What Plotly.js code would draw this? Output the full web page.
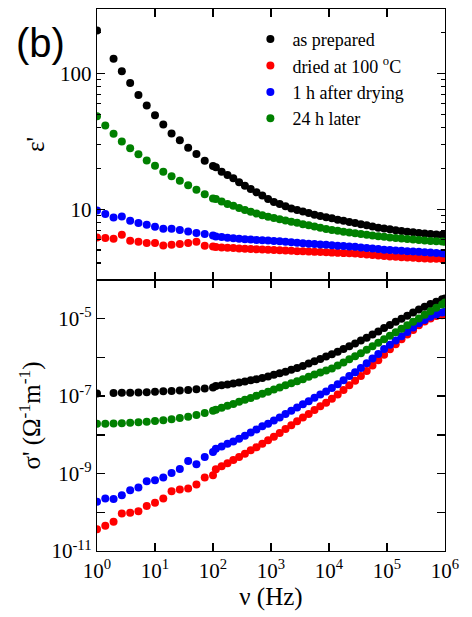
<!DOCTYPE html>
<html><head><meta charset="utf-8">
<script src="https://cdn.plot.ly/plotly-3.0.1.min.js"></script>
<style>html,body{margin:0;padding:0;background:#fff;}#chart{width:472px;height:617px;}</style>
</head><body>
<div id="chart"></div>
<script>
// Frequencies (Hz): low-frequency sweep and high-frequency sweep
const freqLow = [1, 1.39, 1.93, 2.68, 3.73, 5.18, 7.2, 10, 13.9, 19.3, 26.8, 37.3, 51.8, 72, 100];
const freqHigh = [112, 141, 178, 224, 282, 355, 447, 562, 708, 891,
  1122, 1413, 1778, 2239, 2818, 3548, 4467, 5623, 7079, 8913,
  11220, 14130, 17780, 22390, 28180, 35480, 44670, 56230, 70790, 89130,
  112200, 141300, 177800, 223900, 281800, 354800, 446700, 562300, 707900, 891300, 1000000];

const seriesNames = ["as prepared", "dried at 100 <sup>o</sup>C", "1 h after drying", "24 h later"];

// epsilon' (top panel)
const epsAsPrepared = [208, null, 129, 104, 85.3, 69.7, 58.2, 49.3, 42.2, 36.2, 32.2, 28.4, 25.5, 22.8, 20.8,
  20.4, 18.9, 17.9, 16.9, 15.8, 14.9, 14.1, 13.3, 12.6, 11.9, 11.3, 10.9, 10.5, 10.1, 9.85, 9.6, 9.35, 9.1, 8.9, 8.7,
  8.55, 8.35, 8.2, 8.05, 7.9, 7.75, 7.6, 7.45, 7.3, 7.2, 7.1, 7.0, 6.9, 6.82, 6.75, 6.68, 6.62, 6.56, 6.51, 6.47, 6.45];
const epsDried = [6.18, 6.12, 6.05, 6.48, 5.85, 5.75, 5.62, 5.62, 5.4, 5.46, 5.53, 5.62, 5.75, 5.37, 5.31,
  5.26, 5.22, 5.19, 5.16, 5.13, 5.1, 5.08, 5.06, 5.04, 5.02, 5.0, 4.98, 4.95, 4.93, 4.9, 4.88, 4.86, 4.84, 4.82, 4.8,
  4.78, 4.76, 4.74, 4.72, 4.7, 4.67, 4.63, 4.59, 4.55, 4.51, 4.48, 4.45, 4.42, 4.39, 4.37, 4.35, 4.33, 4.31, 4.3, 4.29, 4.28];
const eps1h = [9.77, 9.19, 8.67, 8.82, 8.2, 7.89, 7.67, 7.41, 7.17, 7.17, 7.01, 6.85, 6.66, 6.55, 6.4,
  6.29, 6.22, 6.15, 6.1, 6.05, 6.0, 5.96, 5.93, 5.89, 5.86, 5.83, 5.79, 5.75, 5.7, 5.65, 5.6, 5.56, 5.52, 5.48, 5.45,
  5.42, 5.38, 5.34, 5.3, 5.27, 5.22, 5.17, 5.12, 5.07, 5.02, 4.99, 4.96, 4.93, 4.9, 4.87, 4.84, 4.81, 4.78, 4.75, 4.72, 4.71];
const eps24h = [48.5, 41.5, 36.0, 31.6, 28.2, 25.4, 22.9, 20.9, 18.9, 17.5, 16.2, 15.0, 13.9, 12.9, 12.0,
  11.9, 11.4, 10.9, 10.6, 10.2, 9.85, 9.55, 9.28, 9.0, 8.78, 8.6, 8.42, 8.25, 8.08, 7.92, 7.75, 7.6, 7.45, 7.3, 7.15,
  7.02, 6.92, 6.82, 6.72, 6.63, 6.55, 6.48, 6.4, 6.32, 6.25, 6.19, 6.13, 6.07, 6.02, 5.97, 5.92, 5.87, 5.83, 5.79, 5.76, 5.74];

// sigma' (bottom panel), ohm^-1 m^-1
const sigAsPrepared = [1.175e-7, null, 1.20e-7, 1.22e-7, 1.23e-7, 1.245e-7, 1.26e-7, 1.30e-7, 1.33e-7, 1.36e-7, 1.40e-7, 1.45e-7, 1.51e-7, 1.58e-7, 1.66e-7,
  1.82e-7, 1.91e-7, 2.0e-7, 2.11e-7, 2.24e-7, 2.40e-7, 2.57e-7, 2.75e-7, 2.95e-7, 3.24e-7,
  3.55e-7, 3.89e-7, 4.27e-7, 4.79e-7, 5.37e-7, 6.03e-7, 6.92e-7, 7.94e-7, 9.12e-7, 1.05e-6,
  1.20e-6, 1.41e-6, 1.66e-6, 1.95e-6, 2.29e-6, 2.75e-6, 3.24e-6, 3.89e-6, 4.68e-6, 5.75e-6,
  6.92e-6, 8.32e-6, 1.0e-5, 1.20e-5, 1.45e-5, 1.74e-5, 2.04e-5, 2.40e-5, 2.75e-5, 3.16e-5, 3.31e-5];
const sigDried = [3.62e-11, 4.49e-11, 5.69e-11, 9.37e-11, 9.71e-11, 1.07e-10, 1.45e-10, 1.76e-10, 2.28e-10, 3.52e-10, 3.89e-10, 4.13e-10, 5.24e-10, 7.94e-10, 9.1e-10,
  1.29e-9, 1.55e-9, 1.86e-9, 2.24e-9, 2.69e-9, 3.24e-9, 3.98e-9, 4.79e-9, 5.89e-9, 7.24e-9,
  8.91e-9, 1.12e-8, 1.41e-8, 1.78e-8, 2.24e-8, 2.82e-8, 3.47e-8, 4.37e-8, 5.50e-8, 6.76e-8,
  8.51e-8, 1.10e-7, 1.45e-7, 1.91e-7, 2.51e-7, 3.31e-7, 4.47e-7, 6.17e-7, 8.51e-7, 1.17e-6,
  1.62e-6, 2.19e-6, 2.95e-6, 3.89e-6, 5.13e-6, 6.76e-6, 8.51e-6, 1.02e-5, 1.17e-5, 1.23e-5, 1.27e-5];
const sig1h = [1.87e-10, 2.28e-10, 2.19e-10, 2.77e-10, 3.73e-10, 4.38e-10, 6.37e-10, 6.76e-10, 7.94e-10, 1.04e-9, 1.32e-9, 2.12e-9, 1.75e-9, 2.69e-9, 3.63e-9,
  4.37e-9, 5.01e-9, 5.89e-9, 6.76e-9, 7.94e-9, 9.55e-9, 1.15e-8, 1.38e-8, 1.66e-8, 1.95e-8,
  2.34e-8, 2.82e-8, 3.47e-8, 4.17e-8, 5.07e-8, 6.17e-8, 7.41e-8, 9.12e-8, 1.10e-7, 1.32e-7,
  1.62e-7, 2.04e-7, 2.57e-7, 3.31e-7, 4.17e-7, 5.37e-7, 7.08e-7, 9.33e-7, 1.23e-6, 1.66e-6,
  2.14e-6, 2.75e-6, 3.55e-6, 4.57e-6, 5.89e-6, 7.59e-6, 9.33e-6, 1.12e-5, 1.29e-5, 1.45e-5, 1.51e-5];
const sig24h = [1.93e-8, 1.95e-8, 1.96e-8, 2.0e-8, 2.04e-8, 2.12e-8, 2.19e-8, 2.29e-8, 2.40e-8, 2.53e-8, 2.74e-8, 2.95e-8, 3.27e-8, 3.67e-8, 4.22e-8,
  4.47e-8, 5.01e-8, 5.62e-8, 6.31e-8, 7.16e-8, 8.04e-8, 9.02e-8, 1.02e-7, 1.15e-7, 1.30e-7,
  1.48e-7, 1.66e-7, 1.91e-7, 2.14e-7, 2.43e-7, 2.75e-7, 3.16e-7, 3.63e-7, 4.10e-7, 4.60e-7,
  5.20e-7, 6.17e-7, 7.41e-7, 8.91e-7, 1.07e-6, 1.29e-6, 1.58e-6, 1.95e-6, 2.40e-6, 2.95e-6,
  3.63e-6, 4.47e-6, 5.50e-6, 6.76e-6, 8.32e-6, 1.02e-5, 1.26e-5, 1.55e-5, 1.91e-5, 2.34e-5, 2.63e-5];

// Axis tick values / labels
const xTickVals = [1, 10, 100, 1000, 10000, 100000, 1000000];
const xTickText = ["10<sup>0</sup>", "10<sup>1</sup>", "10<sup>2</sup>", "10<sup>3</sup>", "10<sup>4</sup>", "10<sup>5</sup>", "10<sup>6</sup>"];
const epsTickVals = [10, 100];
const epsTickText = ["10", "100"];
const epsMinorVals = [3, 4, 5, 6, 7, 8, 9, 20, 30, 40, 50, 60, 70, 80, 90, 200, 300];
const sigTickVals = [1e-11, 1e-9, 1e-7, 1e-5];
const sigTickText = ["10<sup>-11</sup>", "10<sup>-9</sup>", "10<sup>-7</sup>", "10<sup>-5</sup>"];
const sigMinorVals = [1e-10, 1e-8, 1e-6, 1e-4];

const freq = freqLow.concat(freqHigh);
const colors = ["#000000", "#ff0000", "#0000ff", "#008000"];
const epsData = [epsAsPrepared, epsDried, eps1h, eps24h];
const sigData = [sigAsPrepared, sigDried, sig1h, sig24h];

function buildTraces() {
  const traces = [];
  for (let i = 0; i < 4; i++) {
    traces.push({x: freq, y: epsData[i], xaxis: 'x2', yaxis: 'y2', type: 'scatter', mode: 'markers',
      name: seriesNames[i], marker: {color: colors[i], size: 8}, showlegend: true, legendrank: i});
  }
  for (let i = 0; i < 4; i++) {
    traces.push({x: freq, y: sigData[i], xaxis: 'x', yaxis: 'y', type: 'scatter', mode: 'markers',
      name: seriesNames[i], marker: {color: colors[i], size: 8}, showlegend: false});
  }
  return traces;
}

const SERIF = 'Liberation Serif';
function axisBase() {
  return {showgrid: false, zeroline: false, linecolor: '#000', linewidth: 1.3, mirror: 'ticks',
    ticks: 'inside', ticklen: 8, tickwidth: 1.3, tickcolor: '#000',
    tickfont: {family: SERIF, size: 21, color: '#000'}};
}

function buildLayout() {
  return {
    width: 472, height: 617,
    margin: {l: 97, r: 27, t: 9, b: 66},
    paper_bgcolor: '#fff', plot_bgcolor: '#fff',
    showlegend: true,
    legend: {x: 0.435, xanchor: 'left', y: 0.978, yanchor: 'top', bgcolor: 'rgba(0,0,0,0)',
      font: {family: SERIF, size: 18, color: '#000'}, itemwidth: 34, tracegroupgap: 0},
    xaxis: Object.assign(axisBase(), {type: 'log', range: [0, 6], anchor: 'y',
      tickmode: 'array', tickvals: xTickVals, ticktext: xTickText,
      title: {text: 'ν (Hz)', font: {family: SERIF, size: 25, color: '#000'}, standoff: 6}}),
    xaxis2: Object.assign(axisBase(), {type: 'log', range: [0, 6], anchor: 'y2', matches: 'x',
      tickmode: 'array', tickvals: xTickVals, showticklabels: false}),
    yaxis: Object.assign(axisBase(), {type: 'log', range: [-11, -4], domain: [0, 0.5], anchor: 'x',
      tickmode: 'array', tickvals: sigTickVals, ticktext: sigTickText,
      minor: {tickmode: 'array', tickvals: sigMinorVals, ticks: 'inside', ticklen: 8, tickwidth: 1.3, tickcolor: '#000', showgrid: false},
      title: {text: "σ' (Ω<sup>-1</sup>m<sup>-1</sup>)", font: {family: SERIF, size: 25, color: '#000'}, standoff: 3}}),
    yaxis2: Object.assign(axisBase(), {type: 'log', range: [Math.log10(3), Math.log10(300)], domain: [0.5, 1], anchor: 'x2',
      tickmode: 'array', tickvals: epsTickVals, ticktext: epsTickText,
      minor: {tickmode: 'array', tickvals: epsMinorVals, ticks: 'inside', ticklen: 4, tickwidth: 1.2, tickcolor: '#000', showgrid: false},
      title: {text: "ε'", font: {family: SERIF, size: 25, color: '#000'}, standoff: 8}}),
    annotations: [{text: '(b)', xref: 'paper', yref: 'paper', x: -0.162, y: 0.937, xanchor: 'center', yanchor: 'middle',
      showarrow: false, font: {family: 'Liberation Sans', size: 40, color: '#000'}}]
  };
}

const config = {displayModeBar: false, staticPlot: true};
Plotly.newPlot('chart', buildTraces(), buildLayout(), config);
if (document.fonts && document.fonts.load) {
  Promise.all([
    document.fonts.load('21px "Liberation Serif"', '10 100 Hz ν σ ε Ω'),
    document.fonts.load('40px "Liberation Sans"', '(b)')
  ]).then(() => {
    Plotly.purge('chart');
    return Plotly.newPlot('chart', buildTraces(), buildLayout(), config);
  }).catch(() => {});
}
</script>
</body></html>
